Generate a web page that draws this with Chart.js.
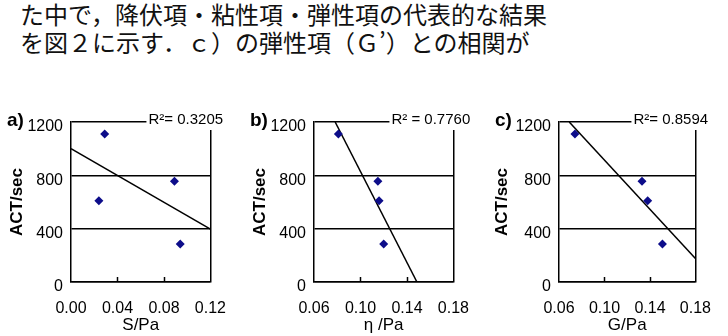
<!DOCTYPE html>
<html lang="ja">
<head>
<meta charset="UTF-8">
<title>図2</title>
<script src="https://cdn.jsdelivr.net/npm/chart.js@4.4.0/dist/chart.umd.min.js"></script>
<style>
  body { margin: 0; width: 728px; height: 336px; background: #fff; position: relative; overflow: hidden; }
  .text { position: absolute; left: 20px; top: 0; font-family: "Noto Sans CJK JP", sans-serif; font-size: 24px; line-height: 28px; color: #111; white-space: nowrap; }
  .panel { position: absolute; top: 60px; width: 243px; height: 276px; }
</style>
</head>
<body>
<div class="text">た中で，降伏項・粘性項・弾性項の代表的な結果<br>を図２に示す．ｃ）の弾性項（Ｇ’）との相関が</div>
<canvas id="chartA" class="panel" width="243" height="276" style="left:0px"></canvas>
<canvas id="chartB" class="panel" width="243" height="276" style="left:243px"></canvas>
<canvas id="chartC" class="panel" width="243" height="276" style="left:485px"></canvas>
<script>
// ACT of the four samples, same order in every panel
const actValues = [1110, 610, 755, 285];
const yieldS = [0.029, 0.024, 0.089, 0.094];     // a) S/Pa
const viscEta = [0.081, 0.116, 0.115, 0.120];    // b) η/Pa
const elasticG = [0.074, 0.138, 0.133, 0.151];   // c) G/Pa

// trend line end points
const trendAX = [0, 0.12],       trendAY = [1000, 397];
const trendBX = [0.0782, 0.1486], trendBY = [1200, 0];
const trendCX = [0.069, 0.18],   trendCY = [1200, 176];

const r2Labels = ['R²= 0.3205', 'R² = 0.7760', 'R²= 0.8594'];
const panelLetters = ['a)', 'b)', 'c)'];
const xTitles = ['S/Pa', 'η /Pa', 'G/Pa'];
const yTicks = [0, 400, 800, 1200];

Chart.defaults.font.family = '"Liberation Sans", Arial, sans-serif';
Chart.defaults.color = '#000';

const extras = {
  id: 'extras',
  afterDraw(chart, args, opts) {
    const {ctx, chartArea: a, scales: {x}} = chart;
    ctx.save();
    // small inward ticks on the x axis
    ctx.strokeStyle = '#000';
    ctx.lineWidth = 1.5;
    x.ticks.slice(1, -1).forEach(t => {
      const px = Math.round(x.getPixelForValue(t.value)) + 0.5;
      ctx.beginPath();
      ctx.moveTo(px, a.bottom);
      ctx.lineTo(px, a.bottom - 5);
      ctx.stroke();
    });
    // R² label over the top right corner
    ctx.font = '15px "Liberation Sans", Arial, sans-serif';
    const w = ctx.measureText(opts.r2).width;
    const tx = a.right - 62;
    ctx.fillStyle = '#fff';
    ctx.fillRect(tx - 2, a.top - 12, w + 8, 20);
    ctx.fillStyle = '#000';
    ctx.textBaseline = 'middle';
    ctx.fillText(opts.r2, tx, a.top - 2);
    // panel letter
    ctx.font = 'bold 19px "Liberation Sans", Arial, sans-serif';
    ctx.textBaseline = 'alphabetic';
    ctx.fillText(opts.letter, a.left - 64, a.top + 4);
    ctx.restore();
  }
};

function makePanel(id, i, xs, tx, ty, xmin, xmax, yLeft, padRight) {
  const lastTick = Math.round((xmax - xmin) / 0.04);
  new Chart(document.getElementById(id), {
    type: 'scatter',
    data: {
      datasets: [
        {
          data: xs.map((v, k) => ({x: v, y: actValues[k]})),
          pointStyle: 'rectRot',
          pointRadius: 4.5,
          backgroundColor: '#0d0d8a',
          borderWidth: 0
        },
        {
          type: 'line',
          data: tx.map((v, k) => ({x: v, y: ty[k]})),
          borderColor: '#000',
          borderWidth: 1.5,
          pointRadius: 0
        }
      ]
    },
    options: {
      responsive: false,
      animation: false,
      layout: {padding: {top: 62, right: padRight, bottom: 0, left: 0}},
      plugins: {
        legend: {display: false},
        tooltip: {enabled: false},
        extras: {r2: r2Labels[i], letter: panelLetters[i]}
      },
      scales: {
        x: {
          type: 'linear',
          min: xmin,
          max: xmax,
          afterFit: s => { s.height = 54; },
          ticks: {stepSize: 0.04, padding: 17, maxRotation: 0, autoSkip: false,
                  font: {size: 16}, callback: v => v.toFixed(2)},
          grid: {drawTicks: false, lineWidth: 1.5,
                 color: c => c.index === lastTick ? '#000' : 'rgba(0,0,0,0)'},
          border: {display: true, color: '#000', width: 1.5},
          title: {display: true, text: xTitles[i], font: {size: 17}, padding: 0}
        },
        y: {
          min: 0,
          max: 1200,
          afterFit: s => { s.width = yLeft; },
          afterBuildTicks: s => { s.ticks = yTicks.map(v => ({value: v})); },
          ticks: {padding: 8, labelOffset: 5, font: {size: 16}, callback: v => String(v)},
          grid: {drawTicks: false, lineWidth: 1.5, color: '#000'},
          border: {display: true, color: '#000', width: 1.5},
          title: {display: true, text: 'ACT/sec', font: {size: 17, weight: 'bold'}, padding: {top: 7, bottom: 0}}
        }
      }
    },
    plugins: [extras]
  });
}

makePanel('chartA', 0, yieldS, trendAX, trendAY, 0, 0.12, 71, 29);
makePanel('chartB', 1, viscEta, trendBX, trendBY, 0.06, 0.18, 71, 27);
makePanel('chartC', 2, elasticG, trendCX, trendCY, 0.06, 0.18, 74, 23);
</script>
</body>
</html>
